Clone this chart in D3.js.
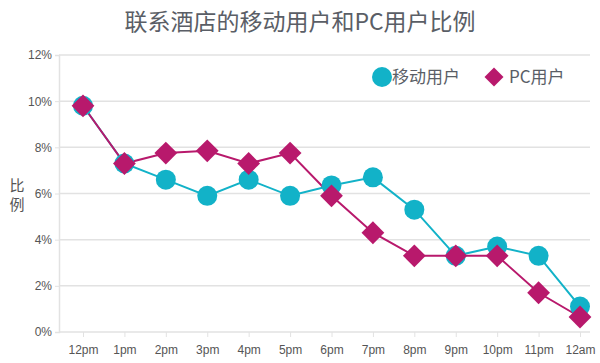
<!DOCTYPE html>
<html><head><meta charset="utf-8">
<script src="https://cdn.jsdelivr.net/npm/d3@7"></script>
<style>body{margin:0;background:#fff}svg{display:block;font-family:"Noto Sans CJK SC","Open Sans",sans-serif}</style>
</head><body>
<svg id="c" width="600" height="363"></svg>
<script>
const categories = ["12pm","1pm","2pm","3pm","4pm","5pm","6pm","7pm","8pm","9pm","10pm","11pm","12am"];
const mobile = [9.8,7.3,6.6,5.9,6.6,5.9,6.35,6.7,5.3,3.3,3.7,3.3,1.1];
const pc = [9.8,7.3,7.75,7.85,7.3,7.75,5.9,4.3,3.3,3.3,3.3,1.7,0.65];
const yTicks = [0,2,4,6,8,10,12];
const seriesNames = ["移动用户","PC用户"];
const colors = ["#12b2c8","#b8196c"];

const svg = d3.select("#c");
const x = d3.scalePoint().domain(categories).range([83,580]);
const y = d3.scaleLinear().domain([0,12]).range([332,55]);
const left = 59, right = 590;

svg.append("text").attr("x",300).attr("y",30).attr("text-anchor","middle")
  .attr("font-size",23).attr("fill","#5a5e66").text("联系酒店的移动用户和PC用户比例");

// gridlines
svg.append("g").selectAll("line").data(yTicks.filter(d=>d>0)).join("line")
  .attr("x1",left).attr("x2",right).attr("y1",d=>y(d)).attr("y2",d=>y(d))
  .attr("stroke","#e2e2e2").attr("stroke-width",1.5);

// y axis
const ya = svg.append("g").attr("transform",`translate(${left},0)`)
  .call(d3.axisLeft(y).tickValues(yTicks).tickFormat(d=>d+"%").tickSize(4));
ya.select(".domain").attr("stroke","#e2e2e2").attr("stroke-width",1.5);
ya.selectAll(".tick line").attr("stroke","#e2e2e2");
ya.selectAll("text").attr("font-size",12).attr("fill","#555").attr("font-family","Liberation Sans, Arial, sans-serif");

// x axis
const xa = svg.append("g").attr("transform",`translate(0,${y(0)})`)
  .call(d3.axisBottom(x).tickSize(5).tickPadding(8));
xa.select(".domain").attr("d",`M${left},0H${right}`).attr("stroke","#e2e2e2").attr("stroke-width",1.5);
xa.selectAll(".tick line").attr("stroke","#e2e2e2");
xa.selectAll("text").attr("font-size",12).attr("fill","#555").attr("font-family","Liberation Sans, Arial, sans-serif");

// y label
svg.append("text").attr("x",17).attr("y",191).attr("text-anchor","middle").attr("font-size",15).attr("fill","#555").text("比");
svg.append("text").attr("x",17).attr("y",210).attr("text-anchor","middle").attr("font-size",15).attr("fill","#555").text("例");

const line = d3.line().x((d,i)=>x(categories[i])).y(d=>y(d));
svg.append("path").datum(mobile).attr("d",line).attr("fill","none").attr("stroke",colors[0]).attr("stroke-width",2);
svg.append("path").datum(pc).attr("d",line).attr("fill","none").attr("stroke",colors[1]).attr("stroke-width",2);

svg.append("g").selectAll("circle").data(mobile).join("circle")
  .attr("cx",(d,i)=>x(categories[i])).attr("cy",d=>y(d)).attr("r",10).attr("fill",colors[0]);
const dia = d3.symbol().type(d3.symbolSquare).size(260);
svg.append("g").selectAll("path").data(pc).join("path")
  .attr("d",dia).attr("transform",(d,i)=>`translate(${x(categories[i])},${y(d)}) rotate(45)`).attr("fill",colors[1]);

// legend
const lg = svg.append("g");
lg.append("circle").attr("cx",382).attr("cy",77).attr("r",10).attr("fill",colors[0]);
lg.append("text").attr("x",392).attr("y",83).attr("font-size",17).attr("fill","#5a5e66").text(seriesNames[0]);
lg.append("path").attr("d",d3.symbol().type(d3.symbolSquare).size(180)).attr("transform","translate(494,77) rotate(45)").attr("fill",colors[1]);
lg.append("text").attr("x",509).attr("y",83).attr("font-size",17).attr("fill","#5a5e66").text(seriesNames[1]);
</script>
</body></html>
